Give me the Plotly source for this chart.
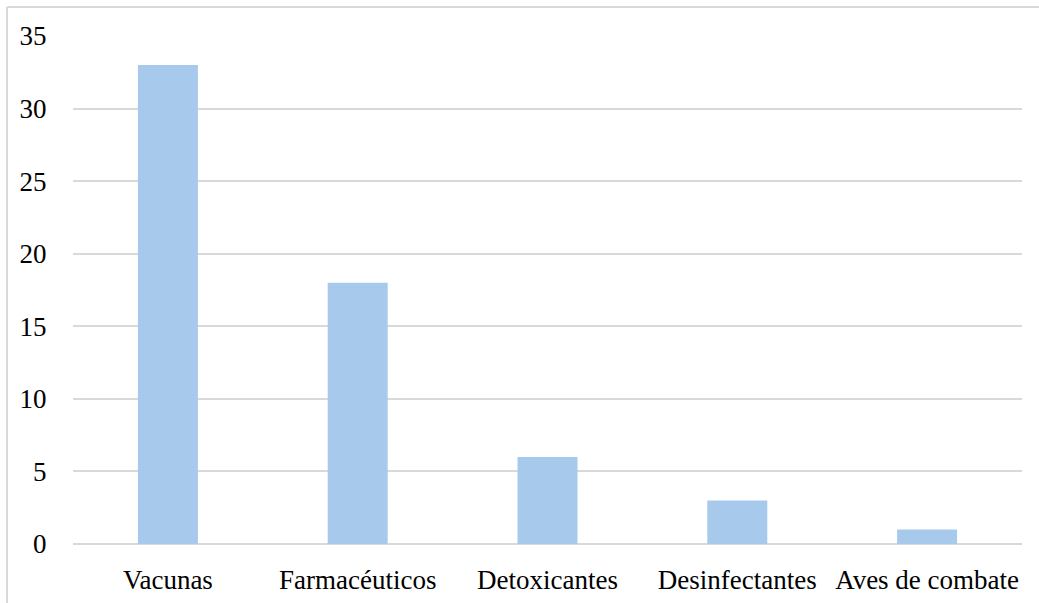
import plotly.graph_objects as go

categorias = ["Vacunas", "Farmacéuticos", "Detoxicantes", "Desinfectantes", "Aves de combate"]
valores = [33, 18, 6, 3, 1]
y_ticks = [0, 5, 10, 15, 20, 25, 30, 35]

fig = go.Figure(
    go.Bar(
        x=categorias,
        y=valores,
        marker=dict(color="#A6C9EC", line=dict(width=0)),
        hoverinfo="x+y",
    )
)

font = dict(family="Liberation Serif, Times New Roman, serif", size=27, color="#000000")

fig.update_layout(
    width=1039,
    height=603,
    margin=dict(l=73, r=17, t=36, b=59),
    paper_bgcolor="white",
    plot_bgcolor="white",
    bargap=0.684,
    showlegend=False,
    font=font,
    xaxis=dict(
        automargin=False,
        showgrid=False,
        showline=False,
        zeroline=False,
        ticks="outside",
        ticklen=12,
        tickcolor="rgba(0,0,0,0)",
        tickfont=font,
    ),
    yaxis=dict(
        automargin=False,
        range=[0, 35],
        tickvals=y_ticks,
        showgrid=True,
        gridcolor="#D9D9D9",
        gridwidth=1.5,
        zeroline=True,
        zerolinecolor="#D9D9D9",
        zerolinewidth=2,
        showline=False,
        ticks="outside",
        ticklen=20,
        tickcolor="rgba(0,0,0,0)",
        tickfont=font,
    ),
    shapes=[
        dict(type="line", xref="paper", yref="paper",
             x0=-0.0695, x1=-0.0695, y0=-0.2, y1=1.057,
             line=dict(color="#D9D9D9", width=2)),
        dict(type="line", xref="paper", yref="paper",
             x0=-0.0695, x1=1.05, y0=1.057, y1=1.057,
             line=dict(color="#D9D9D9", width=2)),
    ],
)

fig.write_html("out.html")
